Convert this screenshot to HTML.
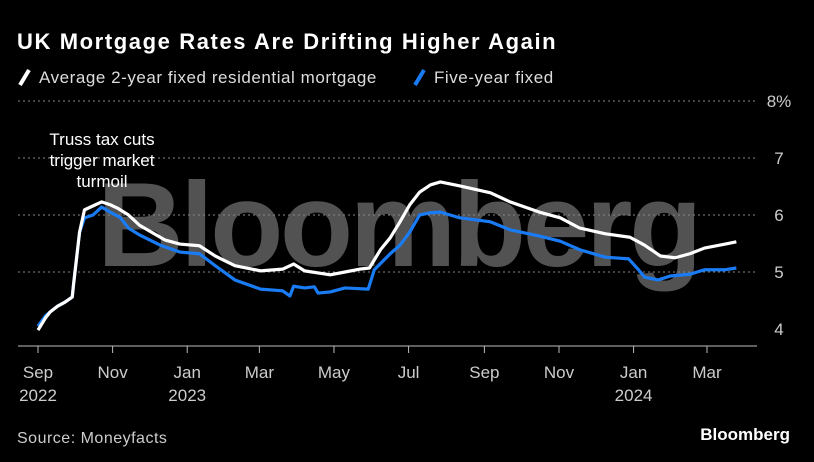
<!DOCTYPE html>
<html><head><meta charset="utf-8"><style>
body{margin:0;background:#000;width:814px;height:462px;overflow:hidden;font-family:"Liberation Sans",sans-serif;color:#fff}
svg{position:absolute;left:0;top:0}
</style></head><body>
<svg width="814" height="462">
<text x="17" y="49" font-size="22" font-weight="bold" fill="#fff" letter-spacing="1.6">UK Mortgage Rates Are Drifting Higher Again</text>
<g>
<line x1="20" y1="85" x2="29" y2="70" stroke="#fff" stroke-width="4"/>
<text x="39" y="83" font-size="17" fill="#ddd" letter-spacing="0.55">Average 2-year fixed residential mortgage</text>
<line x1="415" y1="85" x2="424" y2="70" stroke="#1a7cf5" stroke-width="4"/>
<text x="434" y="83" font-size="17" fill="#ddd" letter-spacing="0.55">Five-year fixed</text>
</g>
<text x="398" y="266" font-size="120" font-weight="bold" fill="#666" fill-opacity="0.8" text-anchor="middle" letter-spacing="-3.5">Bloomberg</text>
<g id="grid"></g>
<g id="axes"></g>
<g id="series"></g>
<g font-size="17" fill="#fff" text-anchor="middle">
<text x="102" y="145">Truss tax cuts</text>
<text x="102" y="166">trigger market</text>
<text x="102" y="187">turmoil</text>
</g>
<text x="17" y="443" font-size="16" fill="#ccc" letter-spacing="0.5">Source: Moneyfacts</text>
<text x="790" y="440" font-size="17" font-weight="bold" fill="#fff" text-anchor="end">Bloomberg</text>
</svg>
<script>
const yTicks=[4,5,6,7,8];
const xTickDays=[0,61,122,181,242,303,365,426,487,547];
const xTickLabels=["Sep","Nov","Jan","Mar","May","Jul","Sep","Nov","Jan","Mar"];
const xTickYears=["2022","","2023","","","","","","2024",""];
const twoYearDays=[0,6,10,16,22,28,29,34,38,45,52,59,65,74,83,104,116,132,145,161,182,200,209,218,239,251,263,271,280,288,296,304,312,321,329,345,370,386,410,427,443,464,484,496,509,521,533,545,562,571];
const twoYearVals=[3.98,4.19,4.30,4.40,4.47,4.56,4.77,5.70,6.09,6.16,6.23,6.18,6.12,6.00,5.82,5.56,5.49,5.46,5.28,5.11,5.02,5.05,5.14,5.02,4.95,5.00,5.05,5.07,5.39,5.60,5.88,6.18,6.40,6.53,6.58,6.51,6.39,6.23,6.05,5.95,5.77,5.67,5.61,5.47,5.28,5.25,5.32,5.42,5.49,5.53];
const fiveYearDays=[0,6,10,16,22,28,29,34,38,45,52,59,67,74,83,100,116,132,145,161,182,200,206,209,218,226,229,239,251,270,275,288,296,304,312,321,329,345,370,386,410,427,443,464,483,491,496,507,517,533,545,562,571];
const fiveYearVals=[4.05,4.23,4.30,4.40,4.47,4.56,4.77,5.70,5.95,6.00,6.14,6.05,5.96,5.77,5.65,5.47,5.35,5.32,5.11,4.86,4.70,4.67,4.58,4.75,4.72,4.74,4.63,4.65,4.72,4.70,5.04,5.32,5.47,5.70,6.00,6.04,6.05,5.95,5.88,5.74,5.63,5.54,5.39,5.26,5.23,5.04,4.91,4.86,4.93,4.96,5.04,5.04,5.07];
const NS="http://www.w3.org/2000/svg";
const X=d=>38+d*1.223, Y=v=>329-(v-4)*57;
function mk(t,a,p){const e=document.createElementNS(NS,t);for(const k in a)e.setAttribute(k,a[k]);p.appendChild(e);return e;}
const grid=document.getElementById('grid'),axes=document.getElementById('axes'),ser=document.getElementById('series');
yTicks.forEach(v=>{
 if(v>4){const l=mk('line',{x1:18,x2:757,y1:Y(v),y2:Y(v),stroke:'#888','stroke-width':1,'stroke-dasharray':'2,3'},grid);
 
 }
 const t=mk('text',{x:779,y:Y(v)+6,'font-size':17,fill:'#ccc','text-anchor':'middle'},axes);
 t.textContent=v===8?'8%':String(v);
 
 
});
const ax=mk('line',{x1:18,x2:757,y1:346,y2:346,stroke:'#bbb','stroke-width':1},axes);


xTickDays.forEach((d,i)=>{
 mk('line',{x1:X(d),x2:X(d),y1:346,y2:353,stroke:'#bbb'},axes);
 const t=mk('text',{x:X(d),y:378,'font-size':17,fill:'#ccc','text-anchor':'middle'},axes);
 t.textContent=xTickLabels[i];
 
 
 if(xTickYears[i]){const y=mk('text',{x:X(d),y:401,'font-size':17,fill:'#ccc','text-anchor':'middle'},axes);
 y.textContent=xTickYears[i];
 
 }
});
function line(days,vals,col,name){
 const p=mk('polyline',{points:days.map((d,i)=>X(d)+','+Y(vals[i])).join(' '),fill:'none',stroke:col,'stroke-width':3.2,'stroke-linejoin':'round'},ser);
 
 
}
line(fiveYearDays,fiveYearVals,'#1a7cf5','five-year-fixed-line');
line(twoYearDays,twoYearVals,'#ffffff','two-year-fixed-line');
</script>
</body></html>
